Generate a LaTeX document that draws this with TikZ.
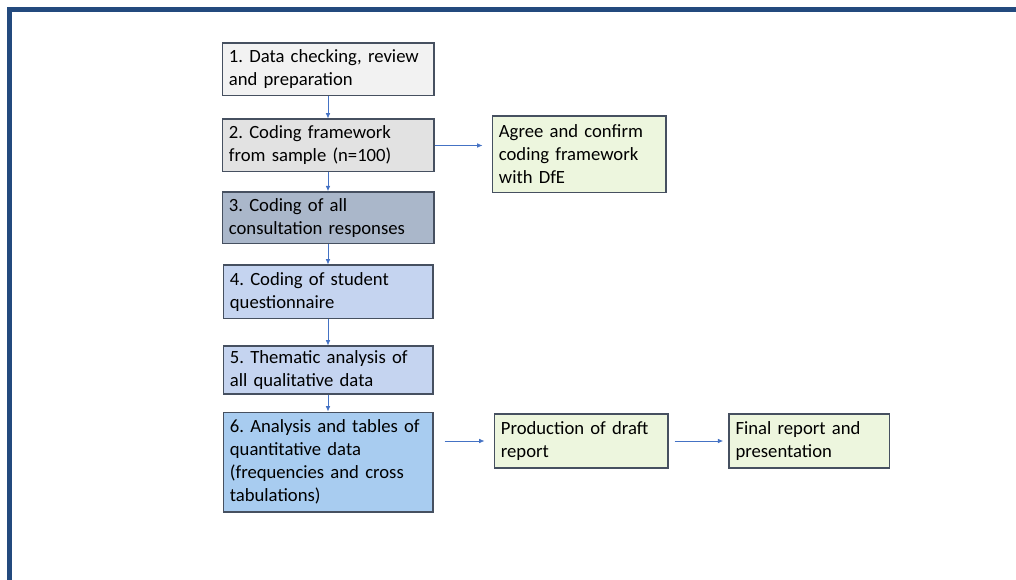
\documentclass[tikz,border=0pt]{standalone}
\usepackage{fontspec}
\setmainfont{Carlito}
\usepackage{tikz}
\usetikzlibrary{positioning, arrows.meta}
\definecolor{framecol}{RGB}{35,74,126}
\definecolor{edgecol}{RGB}{68,114,196}
\definecolor{linecol}{RGB}{70,80,96}
\definecolor{greyone}{RGB}{242,242,242}
\definecolor{greytwo}{RGB}{226,226,226}
\definecolor{slate}{RGB}{170,183,202}
\definecolor{paleblue}{RGB}{197,212,240}
\definecolor{midblue}{RGB}{168,204,240}
\definecolor{palegreen}{RGB}{237,246,222}

\begin{document}
\frenchspacing
\begin{tikzpicture} [x = 0.75pt, y = -0.75pt, node distance = 15pt, >={Latex[length=4pt, width=3.5pt]},
  stage/.style = {draw = linecol, line width = 1.1pt, align = left, inner xsep = 5pt, inner ysep = 2pt, text width = 148.65pt, minimum height = 39.4pt, font = \fontsize{14pt}{17.25pt}\selectfont},
  task/.style = {stage, fill = palegreen, text width = 120.15pt},
  flow/.style = {->, draw = edgecol, line width = 0.6pt}]
\useasboundingbox (0,0) rectangle (1016,580);
\draw[framecol, line width = 4pt] (1016,9.5) -- (9.75,9.5) -- (9.75,580);

\node[stage, fill = greyone, anchor = north west] (check) at (221.5,42.5) {1. Data checking, review\\and preparation};
\node[stage, fill = greytwo] (sample) [below = 16.5pt of check] {2. Coding framework\\from sample (n=100)};
\node[stage, fill = slate, minimum height = 38.9pt] (consult) [below = 14pt of sample] {3. Coding of all\\consultation responses};
\node[stage, fill = paleblue, text width = 147.15pt, minimum height = 40.15pt] (student) [below = of consult] {4. Coding of student\\questionnaire};
\node[stage, fill = paleblue, text width = 147.15pt, minimum height = 35.65pt] (thematic) [below = 19.5pt of student] {5. Thematic analysis of\\all qualitative data};
\node[stage, fill = midblue, text width = 147.15pt, minimum height = 74.65pt] (quant) [below = 12.75pt of thematic] {6. Analysis and tables of\\quantitative data\\(frequencies and cross\\tabulations)};

\node[task, minimum height = 57.4pt] (agree) [right = 42.75pt of sample, yshift = -6.75pt] {Agree and confirm\\coding framework\\with DfE};
\node[task, minimum height = 40.5pt] (draft) [right = 45pt of quant, yshift = 15.75pt] {Production of draft\\report};
\node[task, text width = 110.4pt, minimum height = 40.5pt] (final) [right = 44.75pt of draft] {Final report and\\presentation};


\path (check) edge[flow] (sample);
\path (sample) edge[flow] (consult);
\path (consult) edge[flow] (student);
\path (student) edge[flow] (thematic);
\path (thematic) edge[flow] (quant);
\draw[flow, shorten >= 6.75pt] (sample.east) -- (sample.east -| agree.west);
\draw[flow, shorten <= 8.25pt, shorten >= 6.75pt] (quant.east |- draft.west) -- (draft.west);
\path (draft) edge[flow, shorten <= 4.5pt, shorten >= 3.75pt] (final);


\end{tikzpicture}
\end{document}
